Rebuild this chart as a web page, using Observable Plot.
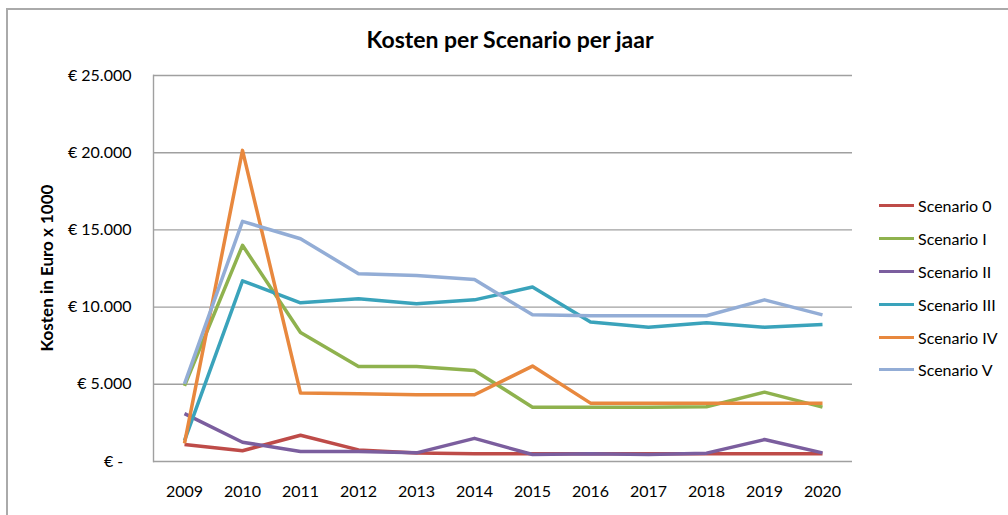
<!DOCTYPE html>
<html><head><meta charset="utf-8">
<script src="https://cdn.jsdelivr.net/npm/d3@7"></script>
<script src="https://cdn.jsdelivr.net/npm/@observablehq/plot@0.6"></script>
<style>
html,body{margin:0;padding:0;background:#fff;}
#wrap{position:relative;width:1008px;height:515px;overflow:hidden;font-family:Lato,"Open Sans",sans-serif;color:#000;}
#chart{position:absolute;left:0;top:0;}
#frame{position:absolute;left:6px;top:8px;width:1020px;height:530px;border-left:2px solid #aaa;border-top:2px solid #aaa;pointer-events:none;}
#title{position:absolute;left:10px;width:1000px;top:25px;text-align:center;font-weight:bold;font-size:23px;}
#ylabel{position:absolute;left:46px;top:268px;transform:translate(-50%,-50%) rotate(-90deg);font-weight:bold;font-size:17px;white-space:nowrap;}
#legend{position:absolute;left:879px;top:189.6px;}
.item{height:32.8px;display:flex;align-items:center;font-size:16px;white-space:nowrap;}
.sw{width:35px;height:3px;margin-right:4px;}
</style>
</head><body>
<div id="wrap">
  <div id="chart"></div>
  <div id="title">Kosten per Scenario per jaar</div>
  <div id="ylabel">Kosten in Euro x 1000</div>
  <div id="legend"></div>
  <div id="frame"></div>
</div>
<script>
const years = ["2009","2010","2011","2012","2013","2014","2015","2016","2017","2018","2019","2020"];
const seriesNames = ["Scenario 0","Scenario I","Scenario II","Scenario III","Scenario IV","Scenario V"];
const seriesColors = ["#BE4B48","#8FB24E","#7B5E9E","#3AA3BB","#E8883E","#93ADD6"];
const scenario0 = [1100, 700, 1700, 750, 550, 500, 500, 500, 500, 500, 500, 500];
const scenarioI = [4900, 14000, 8350, 6150, 6150, 5900, 3520, 3520, 3520, 3550, 4490, 3520];
const scenarioII = [3100, 1250, 650, 650, 560, 1500, 450, 500, 450, 540, 1420, 560];
const scenarioIII = [1350, 11700, 10280, 10540, 10210, 10470, 11300, 9030, 8700, 8990, 8700, 8880];
const scenarioIV = [1170, 20150, 4430, 4380, 4320, 4320, 6180, 3780, 3780, 3780, 3780, 3780];
const scenarioV = [5030, 15550, 14430, 12160, 12050, 11780, 9500, 9440, 9440, 9440, 10470, 9500];
const yTicks = [0, 5000, 10000, 15000, 20000, 25000];

const allSeries = [scenario0, scenarioI, scenarioII, scenarioIII, scenarioIV, scenarioV];
const data = [];
allSeries.forEach((vals, i) => vals.forEach((v, j) => data.push({year: years[j], value: v, series: seriesNames[i]})));

const fmt = d => d === 0 ? "€ -\u00a0\u00a0" : "€ " + d3.format(",")(d).replace(/,/g, ".");

const plot = Plot.plot({
  width: 1008, height: 515,
  marginLeft: 153, marginRight: 156, marginTop: 75, marginBottom: 54,
  style: {fontFamily: "Lato, 'Open Sans', sans-serif", fontSize: "16px", color: "#000", background: "transparent"},
  x: {type: "point", domain: years, padding: 0.5},
  y: {domain: [0, 25000]},
  color: {domain: seriesNames, range: seriesColors},
  marks: [
    Plot.ruleY(yTicks, {stroke: "#a0a0a0", strokeWidth: 1.4}),
    Plot.frame({anchor: "left", stroke: "#a0a0a0", strokeWidth: 1.4}),
    Plot.axisY({ticks: yTicks, tickFormat: fmt, tickSize: 0, tickPadding: 22, label: null, fontSize: 16}),
    Plot.axisX({tickSize: 0, tickPadding: 24, label: null, fontSize: 16}),
    Plot.line(data, {x: "year", y: "value", z: "series", stroke: "series", strokeWidth: 3.5, strokeLinejoin: "round", strokeLinecap: "butt"})
  ]
});
document.getElementById("chart").appendChild(plot);

const legend = document.getElementById("legend");
seriesNames.forEach((n, i) => {
  const it = document.createElement("div");
  it.className = "item";
  it.innerHTML = `<div class="sw" style="background:${seriesColors[i]}"></div><span>${n}</span>`;
  legend.appendChild(it);
});
</script>
</body></html>
